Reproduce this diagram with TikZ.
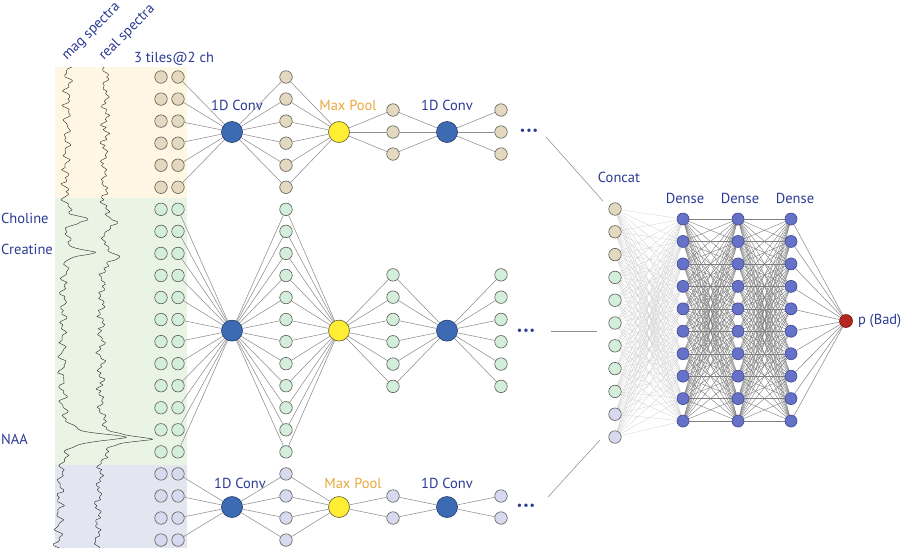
\documentclass[tikz,border=0pt]{standalone}
\usepackage{fontspec}
\setmainfont{PT Sans}
\usetikzlibrary{positioning,backgrounds}
\definecolor{nettext}{HTML}{2B3A93}
\definecolor{netgold}{HTML}{E9A83A}
\definecolor{bandtan}{HTML}{FFF7E3}
\definecolor{bandgreen}{HTML}{E9F4E4}
\definecolor{bandlilac}{HTML}{E3E5F0}
\definecolor{tanfill}{HTML}{E2D9BF}
\definecolor{greenfill}{HTML}{D3EEDB}
\definecolor{lilacfill}{HTML}{D7DAEE}
\definecolor{unitline}{HTML}{5A5A52}
\definecolor{convfill}{HTML}{3D6BB3}
\definecolor{convline}{HTML}{2A4475}
\definecolor{poolfill}{HTML}{FFEE33}
\definecolor{poolline}{HTML}{6E6A3A}
\definecolor{densefill}{HTML}{6671C8}
\definecolor{denseline}{HTML}{3E4690}
\definecolor{outfill}{HTML}{B5261E}
\definecolor{outred}{HTML}{6E1510}
\definecolor{wiregrey}{HTML}{8E8E8E}
\definecolor{fangrey}{HTML}{D0D0D0}
\definecolor{densegrey}{HTML}{7E7E7E}
\tikzset{
  font=\fontsize{14.5}{16}\selectfont,
  unit/.style={circle,draw=unitline,line width=0.6pt,minimum size=12.5pt,inner sep=0pt},
  tanunit/.style={unit,fill=tanfill},
  greenunit/.style={unit,fill=greenfill},
  lilacunit/.style={unit,fill=lilacfill},
  convunit/.style={circle,draw=convline,line width=0.7pt,fill=convfill,
                   minimum size=21pt,inner sep=0pt},
  poolunit/.style={convunit,draw=poolline,fill=poolfill},
  denseunit/.style={circle,draw=denseline,line width=0.6pt,fill=densefill,
                    minimum size=12pt,inner sep=0pt},
  outunit/.style={circle,draw=outred,line width=0.6pt,fill=outfill,
                  minimum size=13pt,inner sep=0pt},
  wire/.style={draw=wiregrey,line width=0.55pt},
  fanwire/.style={draw=fangrey,line width=0.3pt},
  densewire/.style={draw=densegrey,line width=0.4pt},
  lbl/.style={text=nettext,inner sep=0pt},
  poollbl/.style={text=netgold,inner sep=0pt},
  more/.style={text=nettext,font=\fontsize{12}{12}\selectfont,inner sep=0pt},
  spec/.style={draw=black!80,line width=0.45pt,line join=round},
}

\begin{document}
\begin{tikzpicture}[x=1pt,y=-1pt]
  \useasboundingbox (0,0) rectangle (902,550);
  \pgfmathsetseed{11}

  % tile bands behind the inputs
  \begin{scope}[on background layer]
    \fill[bandtan] (55,67) rectangle (187,198);
    \fill[bandgreen] (55,198) rectangle (187,465);
    \fill[bandlilac] (55,465) rectangle (187,548);
  \end{scope}

  % spectra
  \draw[spec] plot[domain=67:548,samples=240,smooth]
    ({68-10*(\x-67)/481+2.8*sin(mod(\x,360)*23)+1.8*sin(mod(\x,36)*50+30)+1.1*rand
      +24/(1+((\x-219)/3.5)^2)+29/(1+((\x-252)/3.5)^2)
      +60/(1+((\x-437)/3.5)^2)+10/(1+((\x-437)/14)^2)},\x);
  \draw[spec] plot[domain=67:548,samples=240,smooth]
    ({106-9*(\x-67)/481+2.5*sin(mod(\x,360)*19+60)+1.8*sin(mod(\x,36)*60)+1.1*rand
      +17/(1+((\x-222)/3.5)^2)+21/(1+((\x-257)/3.5)^2)
      +42/(1+((\x-439)/3.5)^2)+8/(1+((\x-439)/14)^2)},\x);

  \begin{scope}[y=1pt]
    \node[lbl,anchor=base west,rotate=45] (magl) at (67,-61) {mag spectra};
    \node[lbl,anchor=base west,rotate=45] (reall) at (104,-61) {real spectra};
  \end{scope}
  \node[lbl,anchor=base] (tiles) at (174,62) {3 tiles@2 ch};
  \node[lbl,anchor=base west] (cho) at (1,223) {Choline};
  \node[lbl,anchor=base west] (cre) at (1,254) {Creatine};
  \node[lbl,anchor=base west] (naa) at (1,444) {NAA};

  % input tiles and first hidden column
  \foreach \i [evaluate=\i as \yy using 77+22.05*(\i-1)] in {1,...,6} {
    \node[tanunit] (a\i) at (161,\yy) {};
    \node[tanunit] (b\i) at (178,\yy) {};
    \node[tanunit] (h\i) at (286,\yy) {};
  }
  \foreach \i [evaluate=\i as \yy using 77+22.05*(\i-1)] in {7,...,18} {
    \node[greenunit] (a\i) at (161,\yy) {};
    \node[greenunit] (b\i) at (178,\yy) {};
    \node[greenunit] (h\i) at (286,\yy) {};
  }
  \foreach \i [evaluate=\i as \yy using 77+22.05*(\i-1)] in {19,...,22} {
    \node[lilacunit] (a\i) at (161,\yy) {};
    \node[lilacunit] (b\i) at (178,\yy) {};
    \node[lilacunit] (h\i) at (286,\yy) {};
  }

  % conv / pool units
  \node[convunit] (convA) at (232,132) {};
  \node[convunit] (convB) at (232,330.6) {};
  \node[convunit] (convC) at (232,507) {};
  \node[poolunit] (poolA) at (339,132) {};
  \node[poolunit] (poolB) at (339,330.6) {};
  \node[poolunit] (poolC) at (339,507) {};
  \node[convunit] (cvA) at (447,132) {};
  \node[convunit] (cvB) at (447,330.6) {};
  \node[convunit] (cvC) at (447,507) {};

  \node[lbl,anchor=base] at (237,110) {1D Conv};
  \node[poollbl,anchor=base] at (348,110) {Max Pool};
  \node[lbl,anchor=base] at (447,110) {1D Conv};
  \node[lbl,anchor=base] at (240,488) {1D Conv};
  \node[poollbl,anchor=base] at (353,488) {Max Pool};
  \node[lbl,anchor=base] at (447,488) {1D Conv};

  \foreach \k in {1,2,3} {
    \node[tanunit] (pA\k) at (393,{132+22*(\k-2)}) {};
    \node[tanunit] (oA\k) at (501,{132+22*(\k-2)}) {};
  }
  \foreach \k in {1,...,6} {
    \node[greenunit] (pB\k) at (393,{330.6+22.3*(\k-3.5)}) {};
    \node[greenunit] (oB\k) at (501,{330.6+22.3*(\k-3.5)}) {};
  }
  \foreach \k in {1,2} {
    \node[lilacunit] (pC\k) at (393,{507+22*(\k-1.5)}) {};
    \node[lilacunit] (oC\k) at (501,{507+22*(\k-1.5)}) {};
  }
  \node[more] (dotA) at (529,132) {\textbullet\kern1pt\textbullet\kern1pt\textbullet};
  \node[more] (dotB) at (526,332) {\textbullet\kern1pt\textbullet\kern1pt\textbullet};
  \node[more] (dotC) at (526,507) {\textbullet\kern1pt\textbullet\kern1pt\textbullet};

  % concat + dense head
  \foreach \i [evaluate=\i as \yy using 209+22.8*(\i-1)] in {1,...,3}
    \node[tanunit] (cc\i) at (615,\yy) {};
  \foreach \i [evaluate=\i as \yy using 209+22.8*(\i-1)] in {4,...,9}
    \node[greenunit] (cc\i) at (615,\yy) {};
  \foreach \i [evaluate=\i as \yy using 209+22.8*(\i-1)] in {10,11}
    \node[lilacunit] (cc\i) at (615,\yy) {};
  \foreach \j [evaluate=\j as \yy using 219+22.45*(\j-1)] in {1,...,10} {
    \node[denseunit] (da\j) at (683,\yy) {};
    \node[denseunit] (db\j) at (738,\yy) {};
    \node[denseunit] (dc\j) at (791,\yy) {};
  }
  \node[outunit] (pbad) at (846,321) {};
  \node[lbl,right=5pt of pbad] (pbadl) {p (Bad)};
  \node[lbl,anchor=base] at (619,182) {Concat};
  \node[lbl,anchor=base] at (685,203) {Dense};
  \node[lbl,anchor=base] at (740,203) {Dense};
  \node[lbl,anchor=base] at (795,203) {Dense};

  \coordinate (jA) at (546,137);
  \coordinate (kA) at (603,201);
  \coordinate (jB) at (551,331);
  \coordinate (kB) at (597,331);
  \coordinate (jC) at (548,497);
  \coordinate (kC) at (600,440);

  % wiring
  \begin{scope}[on background layer]
    \foreach \i in {1,...,6}
      \draw[wire] (b\i) -- (convA) -- (h\i) -- (poolA);
    \foreach \i in {7,...,18}
      \draw[wire] (b\i) -- (convB) -- (h\i) -- (poolB);
    \foreach \i in {19,...,22}
      \draw[wire] (b\i) -- (convC) -- (h\i) -- (poolC);
    \foreach \k in {1,2,3}
      \draw[wire] (poolA) -- (pA\k) -- (cvA) -- (oA\k);
    \foreach \k in {1,...,6}
      \draw[wire] (poolB) -- (pB\k) -- (cvB) -- (oB\k);
    \foreach \k in {1,2}
      \draw[wire] (poolC) -- (pC\k) -- (cvC) -- (oC\k);
    \draw[wire] (jA) -- (kA);
    \draw[wire] (jB) -- (kB);
    \draw[wire] (jC) -- (kC);
    \foreach \i in {1,...,11}
      \foreach \j in {1,...,10}
        \draw[fanwire] (cc\i) -- (da\j);
    \foreach \i in {1,...,10}
      \foreach \j in {1,...,10} {
        \draw[densewire] (da\i) -- (db\j);
        \draw[densewire] (db\i) -- (dc\j);
      }
    \foreach \j in {1,...,10}
      \draw[wire] (dc\j) -- (pbad);
  \end{scope}
\end{tikzpicture}
\end{document}
